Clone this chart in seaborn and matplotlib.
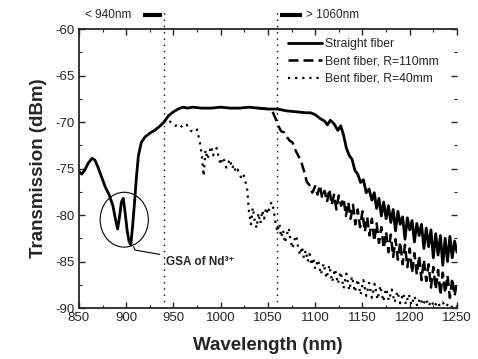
import numpy as np
import pandas as pd
import matplotlib
matplotlib.use("Agg")
import matplotlib.pyplot as plt
from matplotlib.patches import Ellipse
import seaborn as sns

# ---- data ----
wl_straight = [850, 853, 856, 860, 864, 867, 870, 874, 878, 882, 886, 889, 891, 893, 895,
               897, 899, 901, 903, 905, 907, 909, 911, 913, 916, 920, 925, 930, 935, 940,
               945, 950, 955, 960, 965, 970, 980, 990, 1000, 1010, 1020, 1030, 1040, 1050,
               1060, 1070, 1080, 1090, 1095, 1100, 1105, 1110, 1113, 1116, 1120, 1124, 1127,
               1130, 1133, 1136, 1139, 1142, 1145, 1148, 1151, 1154, 1157, 1160, 1162.5,
               1165, 1167.5, 1170, 1172.5, 1175, 1177.5, 1180, 1182.5, 1185, 1187.5, 1190,
               1192.5, 1195, 1197.5, 1200, 1202.5, 1205, 1207.5, 1210, 1212.5, 1215, 1217.5,
               1220, 1222.5, 1225, 1227.5, 1230, 1232.5, 1235, 1237.5, 1240, 1242.5, 1245,
               1247.5, 1250]
tr_straight = [-75.3, -75.6, -75.2, -74.4, -73.9, -74.1, -74.8, -75.9, -77.0, -77.8, -79.0,
               -80.6, -81.5, -80.2, -78.6, -78.2, -79.8, -81.6, -82.8, -83.2, -81.0, -78.5,
               -75.8, -73.6, -72.2, -71.6, -71.2, -70.9, -70.5, -70.0, -69.3, -68.9, -68.6,
               -68.4, -68.5, -68.4, -68.5, -68.5, -68.4, -68.5, -68.5, -68.4, -68.5, -68.6,
               -68.6, -68.8, -68.9, -69.0, -69.0, -69.2, -69.6, -69.9, -70.3, -69.8, -70.2,
               -70.9, -70.4, -71.4, -72.8, -73.6, -74.0, -75.2, -75.6, -76.5, -76.2, -77.6,
               -77.2, -78.4, -77.6, -79.3, -78.2, -80.1, -78.6, -80.4, -79.0, -80.8, -79.4,
               -81.7, -79.6, -81.0, -80.2, -82.6, -80.3, -81.6, -80.6, -82.9, -80.9, -82.2,
               -81.0, -83.6, -81.4, -83.4, -81.6, -84.6, -82.0, -84.3, -82.2, -85.4, -82.5,
               -85.0, -82.3, -84.6, -82.8, -84.0]

wl_bent110 = [1040, 1050, 1055, 1058, 1061, 1064, 1067, 1070, 1073, 1076, 1079, 1082, 1085,
              1088, 1091, 1094, 1097, 1100, 1102.5, 1105, 1107.5, 1110, 1112.5, 1115, 1117.5,
              1120, 1122.5, 1125, 1127.5, 1130, 1132.5, 1135, 1137.5, 1140, 1142.5, 1145,
              1147.5, 1150, 1152.5, 1155, 1157.5, 1160, 1162.5, 1165, 1167.5, 1170, 1172.5,
              1175, 1177.5, 1180, 1182.5, 1185, 1187.5, 1190, 1192.5, 1195, 1197.5, 1200,
              1202.5, 1205, 1207.5, 1210, 1212.5, 1215, 1217.5, 1220, 1222.5, 1225, 1227.5,
              1230, 1232.5, 1235, 1237.5, 1240, 1242.5, 1245, 1247.5, 1250]
tr_bent110 = [-68.5, -68.6, -68.9, -69.6, -70.4, -71.0, -71.1, -71.6, -72.0, -72.2, -73.0,
              -73.6, -74.2, -75.2, -76.4, -76.8, -77.6, -76.9, -77.8, -76.8, -78.2, -77.4,
              -78.6, -77.2, -78.9, -77.8, -79.4, -77.9, -79.0, -78.2, -80.1, -78.6, -80.4,
              -78.9, -81.0, -79.4, -81.3, -79.6, -81.8, -80.2, -82.2, -80.4, -82.8, -80.9,
              -83.0, -81.3, -83.6, -81.8, -84.0, -82.1, -84.5, -82.6, -84.8, -82.9, -85.3,
              -83.2, -85.6, -83.6, -86.2, -84.1, -86.4, -84.4, -87.0, -84.8, -87.1, -85.3,
              -87.8, -85.6, -88.0, -85.9, -88.6, -86.2, -88.4, -86.5, -88.9, -86.8, -88.7,
              -87.2]

wl_bent40 = [940, 944, 948, 952, 956, 960, 964, 968, 972, 975, 978, 980, 982, 984, 986, 988,
             990, 992, 994, 996, 998, 1000, 1002, 1004, 1006, 1008, 1010, 1012, 1014, 1016,
             1018, 1020, 1022, 1024, 1026, 1028, 1030, 1032, 1034, 1036, 1038, 1040, 1042,
             1044, 1046, 1048, 1050, 1052, 1054, 1056, 1058, 1060, 1062, 1064, 1066, 1068,
             1070, 1072, 1074, 1076, 1078, 1080, 1082, 1084, 1086, 1088, 1090, 1092, 1094,
             1096, 1098, 1100, 1103, 1106, 1109, 1112, 1115, 1118, 1121, 1124, 1127, 1130,
             1133, 1136, 1139, 1142, 1145, 1148, 1151, 1154, 1157, 1160, 1163, 1166, 1169,
             1172, 1175, 1178, 1181, 1184, 1187, 1190, 1193, 1196, 1199, 1202, 1205, 1208,
             1211, 1214, 1217, 1220, 1223, 1226, 1229, 1232, 1235, 1238, 1241, 1244, 1247,
             1250]
tr_bent40 = [-70.0, -69.7, -70.1, -70.4, -70.2, -70.6, -70.3, -70.9, -71.1, -70.8, -72.2,
             -73.5, -75.8, -73.0, -74.0, -73.3, -72.6, -73.6, -73.0, -72.8, -73.9, -74.6,
             -73.8, -74.2, -74.9, -74.4, -74.0, -75.0, -74.6, -75.4, -75.1, -75.7, -76.0,
             -75.6, -76.3, -77.2, -79.6, -81.0, -79.2, -80.6, -81.4, -79.8, -80.9, -79.5,
             -80.4, -79.2, -79.9, -79.0, -78.6, -79.4, -80.8, -81.8, -80.9, -82.4, -81.6,
             -83.0, -82.1, -81.4, -82.8, -83.6, -82.7, -82.2, -83.5, -84.3, -83.4, -84.6,
             -83.8, -85.0, -84.2, -85.4, -84.6, -85.8, -84.8, -86.4, -85.2, -86.8, -85.4,
             -87.2, -85.8, -87.4, -86.1, -87.9, -86.3, -88.1, -86.6, -88.3, -86.9, -88.6,
             -87.0, -88.7, -87.3, -88.9, -87.4, -89.1, -87.6, -89.3, -87.9, -89.2, -88.0,
             -89.4, -88.2, -89.5, -88.4, -89.6, -88.5, -89.7, -88.7, -89.8, -88.9, -89.7,
             -89.0, -89.8, -89.2, -89.9, -89.3, -89.8, -89.4, -89.9, -89.5, -89.9, -89.6,
             -89.8]

labels = ["Straight fiber", "Bent fiber, R=110mm", "Bent fiber, R=40mm"]
x_ticks = [850, 900, 950, 1000, 1050, 1100, 1150, 1200, 1250]
y_ticks = [-90, -85, -80, -75, -70, -65, -60]

sns.set_style("ticks")
plt.rcParams["font.family"] = ["Liberation Sans", "DejaVu Sans"]
plt.rcParams["axes.unicode_minus"] = False

fig = plt.figure(figsize=(4.78, 3.59), dpi=100)
ax = fig.add_axes([0.165, 0.142, 0.791, 0.777])

# draw bent curves first, straight on top
sns.lineplot(x=wl_bent40, y=tr_bent40, ax=ax, color="k", lw=1.6, linestyle=(0, (1, 2.2)),
             sort=False, errorbar=None, label=labels[2])
sns.lineplot(x=wl_bent110, y=tr_bent110, ax=ax, color="k", lw=1.8, linestyle=(0, (4, 2)),
             sort=False, errorbar=None, label=labels[1])
sns.lineplot(x=wl_straight, y=tr_straight, ax=ax, color="k", lw=2.0,
             sort=False, errorbar=None, label=labels[0])

ax.set_xlim(850, 1250)
ax.set_ylim(-90, -60)
ax.set_xticks(x_ticks)
ax.set_yticks(y_ticks)
ax.set_xticks(np.arange(875, 1250, 50), minor=True)
ax.set_yticks(np.arange(-87.5, -60, 5), minor=True)
ax.tick_params(which="both", direction="in", top=True, right=True, labelsize=9.5, pad=3)
ax.tick_params(which="major", length=4, width=1)
ax.tick_params(which="minor", length=2.5, width=0.8)
for s in ["left", "bottom", "top"]:
    ax.spines[s].set_linewidth(1.3)
ax.spines["right"].set_visible(False)

ax.set_xlabel("Wavelength (nm)", fontsize=13.5, fontweight="bold", labelpad=9)
ax.set_ylabel("Transmission (dBm)", fontsize=13.5, fontweight="bold", labelpad=6)

# vertical dotted markers at 940 and 1060 nm
for xv in (940, 1060):
    ax.plot([xv, xv], [-90, -57.7], color="k", lw=1.0, linestyle=(0, (1, 3.5)), clip_on=False)

# top annotations
ax.text(856, -58.5, "< 940nm", fontsize=8.5, va="center", ha="left")
ax.plot([918, 938], [-58.5, -58.5], color="k", lw=3, solid_capstyle="butt", clip_on=False)
ax.plot([1063, 1086], [-58.5, -58.5], color="k", lw=3, solid_capstyle="butt", clip_on=False)
ax.text(1090, -58.5, "> 1060nm", fontsize=8.5, va="center", ha="left")

# circle around the Nd absorption dip
ax.add_patch(Ellipse((898, -80.5), 51, 5.9, fill=False, lw=0.8, ec="k"))
ax.annotate("GSA of Nd³⁺", xy=(908, -83.4), xytext=(942, -85.0),
            fontsize=8.5, fontweight="bold", va="center", ha="left",
            family=["Liberation Sans", "DejaVu Sans"],
            arrowprops=dict(arrowstyle="-", lw=0.8, color="k",
                            connectionstyle="angle,angleA=170,angleB=-70,rad=0",
                            shrinkA=2, shrinkB=0))

# legend with straight fiber first
h, l = ax.get_legend_handles_labels()
order = [l.index(t) for t in labels]
ax.legend([h[i] for i in order], [l[i] for i in order], loc="upper left",
          bbox_to_anchor=(0.54, 0.985), frameon=False, fontsize=8.7,
          handlelength=2.8, handletextpad=0.3, labelspacing=0.45, borderaxespad=0)

plt.savefig("out.png", dpi=100, facecolor="white")
